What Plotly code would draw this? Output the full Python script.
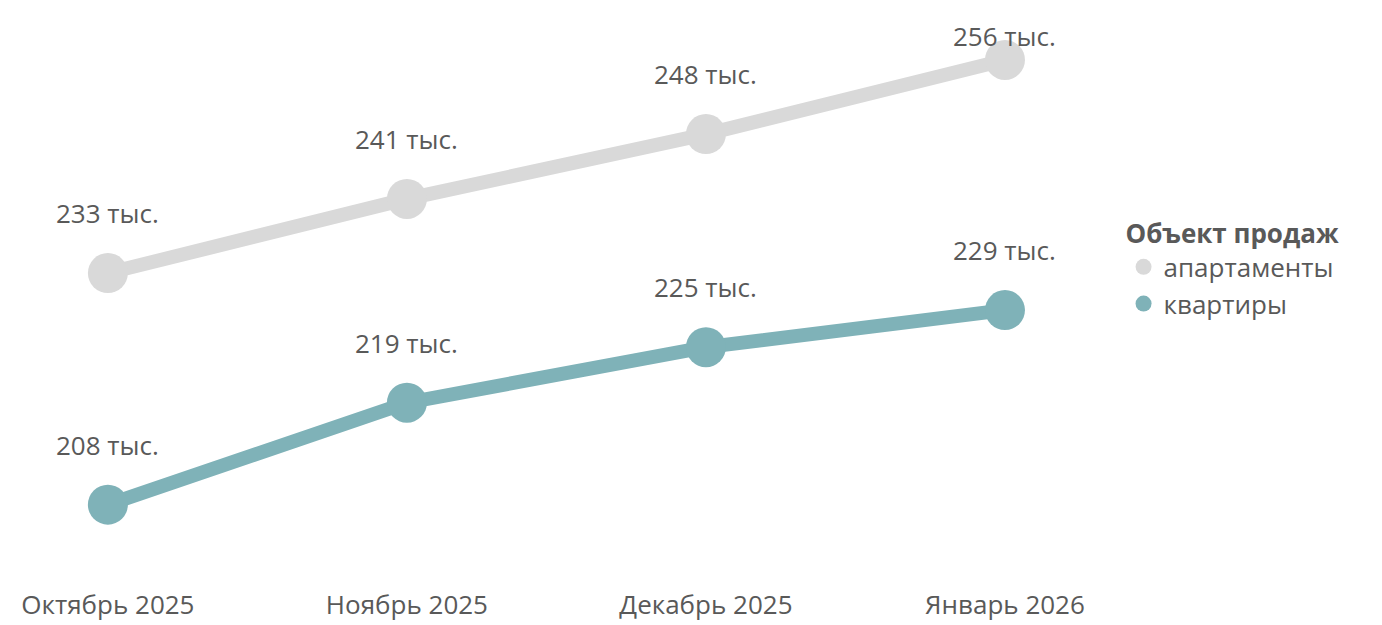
import plotly.graph_objects as go

months = ["Октябрь 2025", "Ноябрь 2025", "Декабрь 2025", "Январь 2026"]
apartments = [233, 241, 248, 256]
flats = [208, 219, 225, 229]
apt_label_shift = [60, 60, 60, 24]
flat_label_shift = [60, 60, 60, 60]

xs = list(range(len(months)))
font = "'Open Sans', sans-serif"
grey_text = "#595959"

fig = go.Figure()
for name, vals, color, shifts in [("апартаменты", apartments, "#d9d9d9", apt_label_shift),
                                  ("квартиры", flats, "#7fb2b8", flat_label_shift)]:
    fig.add_trace(go.Scatter(
        x=xs, y=vals, name=name, mode="lines+markers", showlegend=False,
        line=dict(color=color, width=14),
        marker=dict(color=color, size=40),
    ))
    # legend entry: marker only
    fig.add_trace(go.Scatter(
        x=[None], y=[None], name=name, mode="markers",
        marker=dict(color=color, size=30),
    ))
    for x, v, s in zip(xs, vals, shifts):
        fig.add_annotation(x=x, y=v, text=f"{v} тыс.", showarrow=False,
                           yshift=s, font=dict(size=26, color=grey_text))

fig.update_layout(
    width=1382, height=625,
    margin=dict(l=0, r=272, t=0, b=65),
    plot_bgcolor="white", paper_bgcolor="white",
    font=dict(family=font, color=grey_text, size=26),
    xaxis=dict(tickvals=xs, ticktext=months, range=[-0.334, 3.378],
               showgrid=False, zeroline=False, showline=False,
               ticks="outside", ticklen=14, tickcolor="white"),
    yaxis=dict(range=[201.16, 261.61], visible=False),
    legend=dict(x=1.005, y=0.64, xanchor="left", yanchor="top",
                title=dict(text="<b>Объект продаж</b>", font=dict(size=26)),
                font=dict(size=26), tracegroupgap=30),
)

fig.write_html("out.html")
